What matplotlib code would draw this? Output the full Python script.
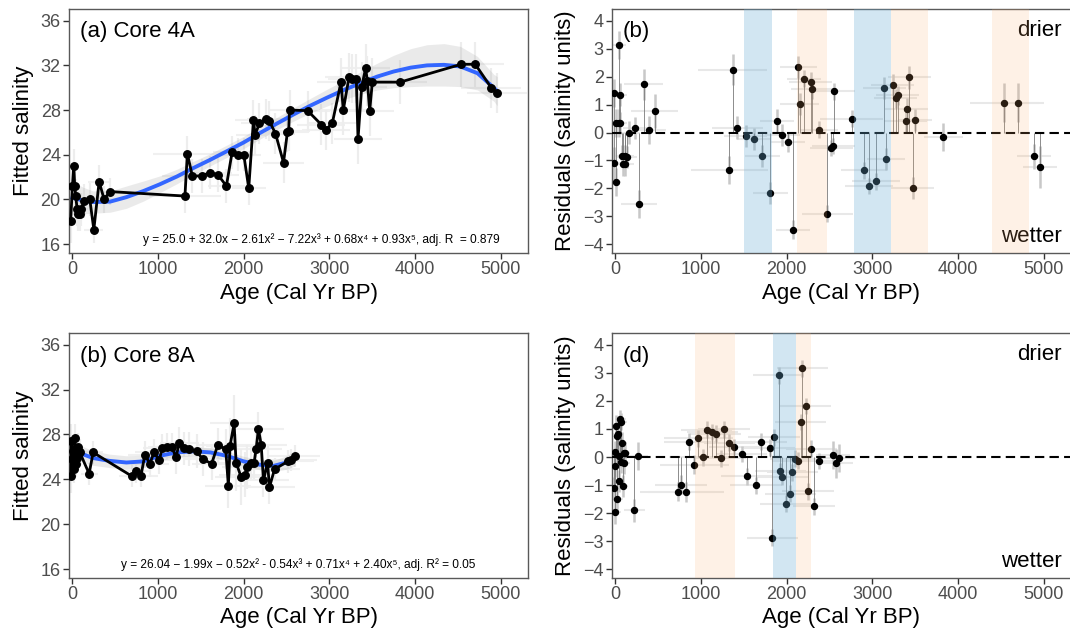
import matplotlib
matplotlib.use('Agg')
import matplotlib.pyplot as plt

plt.rcParams['font.family'] = ['Liberation Sans', 'DejaVu Sans']

# ---- (a) Core 4A: fitted salinity vs age ----
age_4a = [-20, 0, 16, 27, 39, 55, 66, 94, 105, 133, 203, 250, 312, 370, 437,
          1314, 1342, 1400, 1509, 1607, 1700, 1798, 1864, 1931, 2001,
          2059, 2114, 2133, 2184, 2258, 2301, 2371, 2465, 2510, 2525,
          2535, 2746, 2906, 2960, 3034, 3136, 3163, 3230, 3269, 3315,
          3335, 3378, 3424, 3444, 3471, 3502, 3826, 4540, 4704, 4891, 4957]
sal_4a = [18.1, 21.2, 23.0, 21.2, 20.3, 19.1, 18.7, 18.7, 19.1, 19.85, 20.0, 17.3, 21.6, 20.0, 20.7,
          20.3, 24.1, 22.1, 22.1, 22.4, 22.2, 21.2, 24.2, 24.0, 24.0,
          21.0, 27.1, 25.8, 26.8, 27.2, 27.0, 25.9, 23.3, 26.0, 26.1,
          28.0, 27.95, 26.7, 26.25, 26.8, 30.5, 28.0, 30.95, 30.8, 30.8,
          25.4, 30.1, 31.75, 30.6, 27.9, 30.5, 30.5, 32.1, 32.1, 30.0, 29.5]
xerr_4a = [40, 40, 50, 50, 60, 60, 70, 70, 80, 80, 100, 110, 130, 150, 160,
           420, 400, 350, 300, 260, 240, 220, 220, 210, 200,
           200, 220, 220, 220, 220, 220, 230, 240, 250, 250,
           250, 260, 280, 280, 280, 280, 280, 280, 280, 280,
           280, 290, 290, 290, 290, 300, 320, 330, 330, 350, 350]
yerr_4a = [2.0, 1.5, 1.5, 1.5, 1.5, 1.5, 1.5, 1.5, 1.5, 1.5, 1.5, 1.2, 1.5, 1.2, 1.2,
           1.5, 1.6, 1.5, 1.5, 1.5, 1.5, 1.5, 1.5, 1.5, 1.5,
           1.5, 1.8, 1.8, 1.8, 1.8, 1.8, 1.8, 1.8, 1.8, 1.8,
           1.8, 1.8, 1.8, 1.8, 1.8, 2.2, 2.2, 2.2, 2.2, 2.2,
           2.2, 2.2, 2.2, 2.2, 2.2, 2.2, 2.0, 2.0, 2.0, 1.8, 1.8]

# smooth fit (blue) and its band
fit_age_4a = [0, 120, 240, 440, 630, 830, 1020, 1220, 1410, 1610, 1800, 2000, 2190, 2390,
              2580, 2780, 2970, 3170, 3360, 3560, 3750, 3950, 4140, 4340, 4530, 4730, 4920, 4960]
fit_4a = [20.15, 19.9, 19.76, 19.8, 20.2, 20.75, 21.35, 22.05, 22.8, 23.55, 24.3, 25.1, 25.95, 26.8,
          27.6, 28.4, 29.1, 29.8, 30.4, 31.0, 31.45, 31.8, 32.0, 32.05, 31.9, 31.3, 30.0, 29.7]
fit_lo_4a = [18.65, 18.7, 18.76, 18.85, 19.2, 19.85, 20.6, 21.4, 22.2, 23.0, 23.75, 24.55, 25.4, 26.25,
             27.0, 27.75, 28.35, 28.95, 29.4, 29.8, 30.0, 30.1, 30.15, 30.15, 30.1, 29.8, 28.8, 28.4]
fit_hi_4a = [21.65, 21.1, 20.76, 20.75, 21.2, 21.65, 22.1, 22.7, 23.4, 24.1, 24.85, 25.65, 26.5, 27.35,
             28.2, 29.05, 29.85, 30.65, 31.4, 32.2, 32.9, 33.5, 33.85, 33.95, 33.7, 32.8, 31.2, 31.0]

# ---- (b) residuals of core 4A ----
age_res_4a = [-19, -12, 8, 8, 39, 39, 58, 58, 78, 85, 116, 116, 136, 163, 233, 279, 329, 395, 457,
              1329, 1368, 1422, 1519, 1620, 1717, 1810, 1884, 1950, 2016,
              2074, 2136, 2151, 2202, 2279, 2298, 2376, 2473, 2523, 2543,
              2547, 2760, 2907, 2965, 3043, 3140, 3159, 3236, 3275, 3295,
              3391, 3403, 3434, 3473, 3500, 3829, 4543, 4702, 4891, 4957]
res_4a = [1.42, -1.1, -1.76, 0.35, 3.12, 0.35, 1.36, 0.35, -0.83, -1.14, -1.14, -0.83, -0.87, 0.0,
          0.17, -2.54, 1.73, 0.08, 0.77,
          -1.35, 2.25, 0.18, -0.13, -0.23, -0.83, -2.16, 0.43, -0.08, -0.33,
          -3.47, 2.35, 1.01, 1.92, 1.81, 1.55, 0.1, -2.9, -0.55, -0.48,
          1.48, 0.49, -1.35, -1.91, -1.74, 1.6, -0.94, 1.69, 1.22, 1.33,
          0.43, 0.83, 1.97, -1.99, 0.44, -0.15, 1.06, 1.06, -0.85, -1.24]
xerr_res_4a = [60, 60, 60, 60, 80, 80, 80, 80, 100, 100, 100, 100, 120, 120, 150, 210, 230, 200, 270,
               450, 400, 300, 250, 200, 200, 200, 200, 200, 200,
               200, 215, 230, 200, 250, 250, 220, 300, 250, 250,
               250, 370, 270, 280, 280, 250, 220, 250, 250, 250,
               250, 250, 250, 250, 200, 230, 400, 300, 200, 200]
yerr_res_4a = [0.5, 0.6, 0.5, 0.5, 0.5, 0.5, 0.4, 0.4, 0.4, 0.4, 0.4, 0.4, 0.4, 0.4, 0.4, 0.5, 0.55, 0.5, 0.6,
               0.5, 0.55, 0.4, 0.4, 0.4, 0.4, 0.4, 0.4, 0.4, 0.35,
               0.35, 0.4, 0.4, 0.3, 0.35, 0.35, 0.3, 0.3, 0.3, 0.3,
               0.3, 0.3, 0.3, 0.3, 0.3, 0.4, 0.4, 0.4, 0.35, 0.35,
               0.4, 0.4, 0.4, 0.4, 0.4, 0.5, 0.7, 0.7, 0.45, 0.75]
wet_4a = [(1500, 1830), (2790, 3215)]
dry_4a = [(2120, 2470), (3215, 3655), (4400, 4835)]

# ---- (c) Core 8A ----
age_8a = [-20, -12, 0, 8, 16, 27, 39, 47, 55, 66, 86, 195, 242,
          690, 741, 800, 846, 905, 952, 1014, 1049, 1108, 1158,
          1209, 1248, 1307, 1365, 1451, 1521, 1626, 1697, 1790, 1821,
          1841, 1888, 1911, 1970, 2016, 2044, 2083, 2122, 2145, 2172,
          2204, 2231, 2278, 2301, 2360, 2516, 2555, 2594]
sal_8a = [24.3, 27.4, 25.8, 26.5, 24.9, 27.7, 26.7, 25.4, 25.9, 26.9, 26.4, 24.5, 26.4,
          24.3, 24.7, 24.3, 26.2, 25.4, 26.4, 25.7, 26.8, 26.9, 26.9,
          26.0, 27.2, 26.75, 26.7, 26.5, 25.8, 25.4, 27.05, 26.7, 23.4,
          27.0, 29.0, 25.5, 24.2, 24.4, 25.1, 25.5, 25.5, 26.7, 28.5,
          27.1, 23.9, 25.5, 23.3, 24.9, 25.6, 25.7, 26.1]
xerr_8a = [60, 60, 60, 60, 60, 60, 60, 60, 60, 60, 60, 100, 120,
           150, 180, 200, 200, 220, 220, 230, 230, 230, 230,
           230, 230, 230, 230, 230, 230, 230, 230, 250, 270,
           280, 280, 280, 300, 300, 300, 300, 300, 300, 300,
           300, 300, 300, 300, 300, 300, 300, 300]
yerr_8a = [1.5, 1.5, 1.5, 1.2, 1.2, 1.2, 1.2, 1.2, 1.2, 1.2, 1.2, 1.0, 1.0,
           1.0, 1.0, 1.0, 1.2, 1.2, 1.2, 1.2, 1.2, 1.2, 1.2,
           1.5, 1.5, 1.5, 1.5, 1.5, 1.5, 1.5, 1.5, 1.8, 2.0,
           2.5, 2.5, 2.5, 2.5, 2.0, 2.0, 1.5, 1.5, 1.5, 1.5,
           1.5, 1.5, 1.5, 1.5, 1.0, 1.0, 1.0, 1.0]
fit_age_8a = [0, 100, 240, 430, 630, 830, 1020, 1220, 1410, 1610, 1800, 2000, 2190, 2350, 2500, 2600]
fit_8a = [26.6, 26.3, 25.9, 25.65, 25.5, 25.6, 26.1, 26.4, 26.5, 26.4, 26.1, 25.6, 25.3, 25.2, 25.5, 25.9]
fit_lo_8a = [25.8, 25.6, 25.25, 25.05, 24.9, 25.05, 25.65, 26.0, 26.1, 26.0, 25.7, 25.15, 24.85, 24.7, 24.9, 25.2]
fit_hi_8a = [27.4, 27.0, 26.55, 26.25, 26.1, 26.15, 26.55, 26.8, 26.9, 26.8, 26.5, 26.05, 25.75, 25.7, 26.1, 26.6]

# ---- (d) residuals of core 8A ----
age_res_8a = [-19, -8, -8, 0, 8, 19, 23, 31, 39, 47, 58, 70, 70, 78, 85, 97, 105, 109, 221, 264,
              725, 764, 826, 864, 922, 969, 1027, 1066, 1132, 1171,
              1229, 1267, 1329, 1388, 1473, 1531, 1640, 1705, 1802, 1833,
              1853, 1907, 1926, 1950, 1988, 2043, 2066, 2101, 2132, 2163,
              2182, 2221, 2248, 2287, 2318, 2372, 2539, 2570, 2605]
res_8a = [-1.12, -0.32, 0.18, -1.97, 1.11, 0.75, -1.51, 0.81, -0.86, 0.04,
          1.37, 1.26, -0.18, 0.49, -1.04, 0.15, -0.2, 0.15, -1.9, 0.04,
          -1.23, -0.98, -1.24, 0.54, -0.27, 0.67, -0.01, 0.98, 0.89, 0.83,
          -0.05, 0.99, 0.51, 0.36, 0.11, -0.68, -1.01, 0.54, 0.33, -2.87,
          0.7, 2.92, -0.5, -0.7, -1.67, -1.3, -0.54, -0.06, -0.13, 1.25,
          3.16, 1.82, -1.22, 0.3, -1.75, -0.14, 0.06, -0.23, -0.02]
xerr_res_8a = [60, 60, 60, 60, 60, 60, 60, 60, 60, 60, 60, 60, 60, 60, 60, 60, 60, 60, 120, 120,
               440, 300, 440, 300, 400, 400, 400, 300, 300, 300,
               300, 300, 300, 300, 300, 300, 300, 300, 300, 300,
               300, 300, 300, 300, 300, 300, 300, 300, 300, 300,
               300, 300, 300, 300, 250, 250, 200, 200, 200]
yerr_res_8a = [0.4, 0.4, 0.4, 0.4, 0.4, 0.4, 0.4, 0.4, 0.4, 0.4, 0.3, 0.3, 0.4, 0.4, 0.4, 0.4, 0.4, 0.4, 0.4, 0.5,
               0.35, 0.35, 0.35, 0.3, 0.35, 0.3, 0.3, 0.3, 0.3, 0.3,
               0.3, 0.3, 0.3, 0.3, 0.3, 0.3, 0.3, 0.3, 0.3, 0.3,
               0.3, 0.3, 0.3, 0.3, 0.3, 0.3, 0.3, 0.3, 0.3, 0.3,
               0.3, 0.3, 0.3, 0.3, 0.3, 0.3, 0.5, 0.5, 0.5]
wet_8a = [(1835, 2110)]
dry_8a = [(930, 1400), (2110, 2280)]

age_ticks = [0, 1000, 2000, 3000, 4000, 5000]
sal_ticks = [16, 20, 24, 28, 32, 36]
res_ticks = [-4, -3, -2, -1, 0, 1, 2, 3, 4]

W, H = 1070, 638


def style_axes(ax, yticks, ylabel):
    for sp in ax.spines.values():
        sp.set_color('#595959')
        sp.set_linewidth(1.0)
    ax.set_xticks(age_ticks)
    ax.set_yticks(yticks)
    ax.tick_params(direction='out', length=4, width=1, color='#333333',
                   labelcolor='#4d4d4d', labelsize=13, pad=2)
    ax.set_xlabel('Age (Cal Yr BP)', fontsize=16, labelpad=3)
    ax.set_ylabel(ylabel, fontsize=16, labelpad=5)
    ax.set_xlim(-40, 5320)


def fitted_panel(ax, age, sal, xerr, yerr, f_age, f, f_lo, f_hi, title, eq, eq_x):
    # 1. faint age / salinity uncertainty bars
    ax.errorbar(age, sal, xerr=xerr, fmt='none', ecolor='#f0f0f0', elinewidth=1.5, zorder=1)
    ax.errorbar(age, sal, yerr=yerr, fmt='none', ecolor='#ededed', elinewidth=1.6, zorder=1)
    # 2. fit with its band
    ax.fill_between(f_age, f_lo, f_hi, color='#999999', alpha=0.2, lw=0, zorder=2)
    ax.plot(f_age, f, color='#3366FF', lw=2.8, zorder=3)
    # 3. the core record
    ax.plot(age, sal, '-o', color='black', lw=2.0, ms=5.4, zorder=4)
    style_axes(ax, sal_ticks, 'Fitted salinity')
    ax.set_ylim(15.2, 37.05)
    ax.text(0.025, 0.906, title, transform=ax.transAxes, fontsize=16, va='center')
    ax.text(eq_x, 0.054, eq, transform=ax.transAxes, fontsize=8.6, ha='center', va='center')


def resid_panel(ax, age, res, xerr, yerr, wet, dry, label):
    ax.errorbar(age, res, xerr=xerr, fmt='none', ecolor='#e8e8e8', elinewidth=1.5, zorder=1)
    ax.errorbar(age, res, yerr=yerr, fmt='none', ecolor='#c8c8c8', elinewidth=1.8, zorder=1)
    ax.vlines(age, 0, res, colors='#7a7a7a', lw=0.6, zorder=2)
    ax.axhline(0, color='black', lw=1.5, ls=(0, (4.5, 2.5)), zorder=3)
    ax.plot(age, res, 'o', color='black', ms=4.3, zorder=4)
    # wet (blue) and dry (orange) intervals over the marks
    for a0, a1 in wet:
        ax.axvspan(a0, a1, color='#6baed6', alpha=0.3, lw=0, zorder=10)
    for a0, a1 in dry:
        ax.axvspan(a0, a1, color='#fdae6b', alpha=0.17, lw=0, zorder=10)
    style_axes(ax, res_ticks, 'Residuals (salinity units)')
    ax.set_ylim(-4.31, 4.42)
    ax.text(0.024, 0.906, label, transform=ax.transAxes, fontsize=16, va='center')
    ax.text(0.98, 0.912, 'drier', transform=ax.transAxes, fontsize=16, ha='right', va='center')
    ax.text(0.98, 0.066, 'wetter', transform=ax.transAxes, fontsize=16, ha='right', va='center')


fig = plt.figure(figsize=(W / 100, H / 100), dpi=100)
ax_a = fig.add_axes([69 / W, 1 - 253 / H, 459 / W, 244 / H])
ax_b = fig.add_axes([612 / W, 1 - 253 / H, 459 / W, 244 / H])
ax_c = fig.add_axes([69 / W, 1 - 578 / H, 459 / W, 245 / H])
ax_d = fig.add_axes([612 / W, 1 - 578 / H, 459 / W, 245 / H])

fitted_panel(ax_a, age_4a, sal_4a, xerr_4a, yerr_4a, fit_age_4a, fit_4a, fit_lo_4a, fit_hi_4a,
             '(a) Core 4A',
             'y = 25.0 + 32.0x \u2212 2.61x\u00b2 \u2212 7.22x\u00b3 + 0.68x\u2074 + 0.93x\u2075, adj. R  = 0.879',
             0.55)
resid_panel(ax_b, age_res_4a, res_4a, xerr_res_4a, yerr_res_4a, wet_4a, dry_4a, '(b)')
fitted_panel(ax_c, age_8a, sal_8a, xerr_8a, yerr_8a, fit_age_8a, fit_8a, fit_lo_8a, fit_hi_8a,
             '(b) Core 8A',
             'y = 26.04 \u2212 1.99x \u2212 0.52x\u00b2 - 0.54x\u00b3 + 0.71x\u2074 + 2.40x\u2075, adj. R\u00b2 = 0.05',
             0.5)
resid_panel(ax_d, age_res_8a, res_8a, xerr_res_8a, yerr_res_8a, wet_8a, dry_8a, '(d)')

fig.savefig('out.png', dpi=100)
